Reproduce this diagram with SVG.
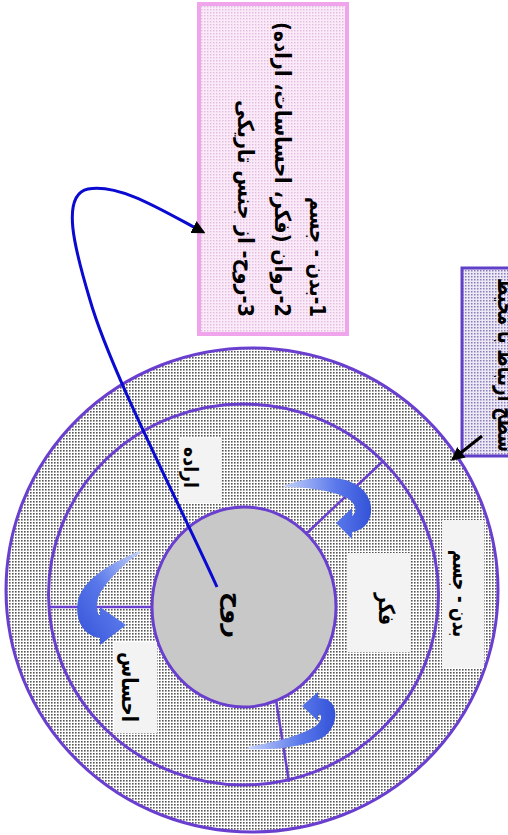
<svg xmlns="http://www.w3.org/2000/svg" width="508" height="835" viewBox="0 0 508 835">
<style>
.ring{stroke:#6a3fd0;stroke-width:3}
.div{stroke:#6a3fd0;stroke-width:2.5;fill:none}
.lbl{fill:#f3f3f3}
.t{font-family:"DejaVu Sans",sans-serif;font-weight:bold;fill:#000;direction:rtl;dominant-baseline:central;text-anchor:middle}
</style>
<defs>
<pattern id="dots" width="3" height="3" patternUnits="userSpaceOnUse"><rect width="3" height="3" fill="#fff"/><rect width="1.6" height="1.6" fill="#555"/></pattern>
<pattern id="pdots" width="3" height="3" patternUnits="userSpaceOnUse"><rect width="3" height="3" fill="#fbeaf8"/><rect width="1.4" height="1.4" fill="#e2bce0"/></pattern>
<pattern id="vdots" width="3" height="3" patternUnits="userSpaceOnUse"><rect width="3" height="3" fill="#ece8f6"/><rect width="1.5" height="1.5" fill="#8a7cb8"/></pattern>
<linearGradient id="g1" x1="0" y1="0" x2="1" y2="0"><stop offset="0" stop-color="#c4d2fb"/><stop offset="0.6" stop-color="#5a78ea"/><stop offset="1" stop-color="#3352d8"/></linearGradient>
<linearGradient id="g2" x1="1" y1="0" x2="0" y2="1"><stop offset="0" stop-color="#c4d2fb"/><stop offset="0.5" stop-color="#5a78ea"/><stop offset="1" stop-color="#3352d8"/></linearGradient>
<marker id="ah" viewBox="0 0 10 10" refX="8" refY="5" markerWidth="4.5" markerHeight="4.5" orient="auto" markerUnits="strokeWidth"><path d="M0,0 L10,5 L0,10 z" fill="#000"/></marker>
</defs>

<g id="outer-ring"><ellipse cx="252" cy="590" rx="246" ry="242" fill="url(#dots)" class="ring"/></g>
<g id="middle-ring"><ellipse cx="243.5" cy="594.5" rx="195" ry="190.5" fill="url(#dots)" class="ring"/></g>
<g id="inner-circle"><ellipse cx="244" cy="607" rx="92" ry="100" fill="#c8c8c8" class="ring"/></g>

<g id="dividers">
<line class="div" x1="307" y1="533" x2="382" y2="462"/>
<line class="div" x1="48" y1="607" x2="152" y2="607"/>
<line class="div" x1="276" y1="700" x2="289" y2="782"/>
</g>

<g id="label-erade"><rect class="lbl" x="180" y="438" width="42" height="65"/><text class="t" font-size="20" transform="translate(191,467.5) rotate(90)" textLength="41" lengthAdjust="spacingAndGlyphs">اراده</text></g>
<g id="label-fekr"><rect class="lbl" x="347" y="553" width="64" height="99"/><text class="t" font-size="22" transform="translate(386.5,609) rotate(90)" textLength="32" lengthAdjust="spacingAndGlyphs">فکر</text></g>
<g id="label-badan"><rect class="lbl" x="442" y="520" width="42" height="148"/><text class="t" font-size="22" transform="translate(460,593.5) rotate(90)" textLength="87" lengthAdjust="spacingAndGlyphs">بدن - جسم</text></g>
<g id="label-ehsas"><rect class="lbl" x="114" y="642" width="43" height="91"/><text class="t" font-size="22" transform="translate(129,687) rotate(90)" textLength="70" lengthAdjust="spacingAndGlyphs">احساس</text></g>
<g id="label-ruh"><text class="t" font-size="24" transform="translate(233.5,615) rotate(90)" textLength="46" lengthAdjust="spacingAndGlyphs">روح</text></g>

<g id="cycle-arrows">
<path fill="url(#g1)" d="M284,486 C310,476 346,472 364,491 C378,508 370,530 352,532 L352,539 L336,523 L352,508 L352,516 C358,512 356,502 345,497 C330,490 305,487 284,487 Z"/>
<path fill="url(#g2)" d="M139,551 C120,560 85,575 78,600 C74,622 85,636 100,638 L100,645 L126,625 L100,607 L100,616 C96,612 95,600 102,590 C110,578 125,562 140,553 Z"/>
<path fill="url(#g1)" d="M248,749 C270,750 300,748 322,738 C338,728 340,705 326,699 L318,698 L318,692 L302,706 L318,721 L318,714 C323,714 322,722 314,727 C300,736 275,742 248,747 Z"/>
</g>

<g id="note-box"><rect x="199" y="4" width="148" height="330" fill="url(#pdots)" stroke="#f0a4ec" stroke-width="4"/>
<text class="t" font-size="22" transform="translate(317.5,257) rotate(90)" textLength="120" lengthAdjust="spacingAndGlyphs">1-بدن - جسم</text>
<text class="t" font-size="22" transform="translate(282,169.5) rotate(90)" textLength="295" lengthAdjust="spacingAndGlyphs">2-روان  (فکر، احساسات، اراده)</text>
<text class="t" font-size="22" transform="translate(245,208.5) rotate(90)" textLength="217" lengthAdjust="spacingAndGlyphs">3-روح- از جنس تاریکی</text>
</g>

<g id="side-box"><rect x="462" y="268" width="60" height="188" fill="url(#vdots)" stroke="#6040c8" stroke-width="3"/>
<text class="t" font-size="24" transform="translate(506,365) rotate(90)" textLength="174" lengthAdjust="spacingAndGlyphs">سطح ارتباط با محیط</text>
</g>

<g id="connectors">
<path d="M217,587 C180,505 110,370 90,300 C75,250 60,195 88,189 C120,183 165,212 203,232" fill="none" stroke="#0a0ad0" stroke-width="3" marker-end="url(#ah)"/>
<line x1="482" y1="436" x2="453" y2="459" stroke="#000" stroke-width="3" marker-end="url(#ah)"/>
</g>
</svg>
